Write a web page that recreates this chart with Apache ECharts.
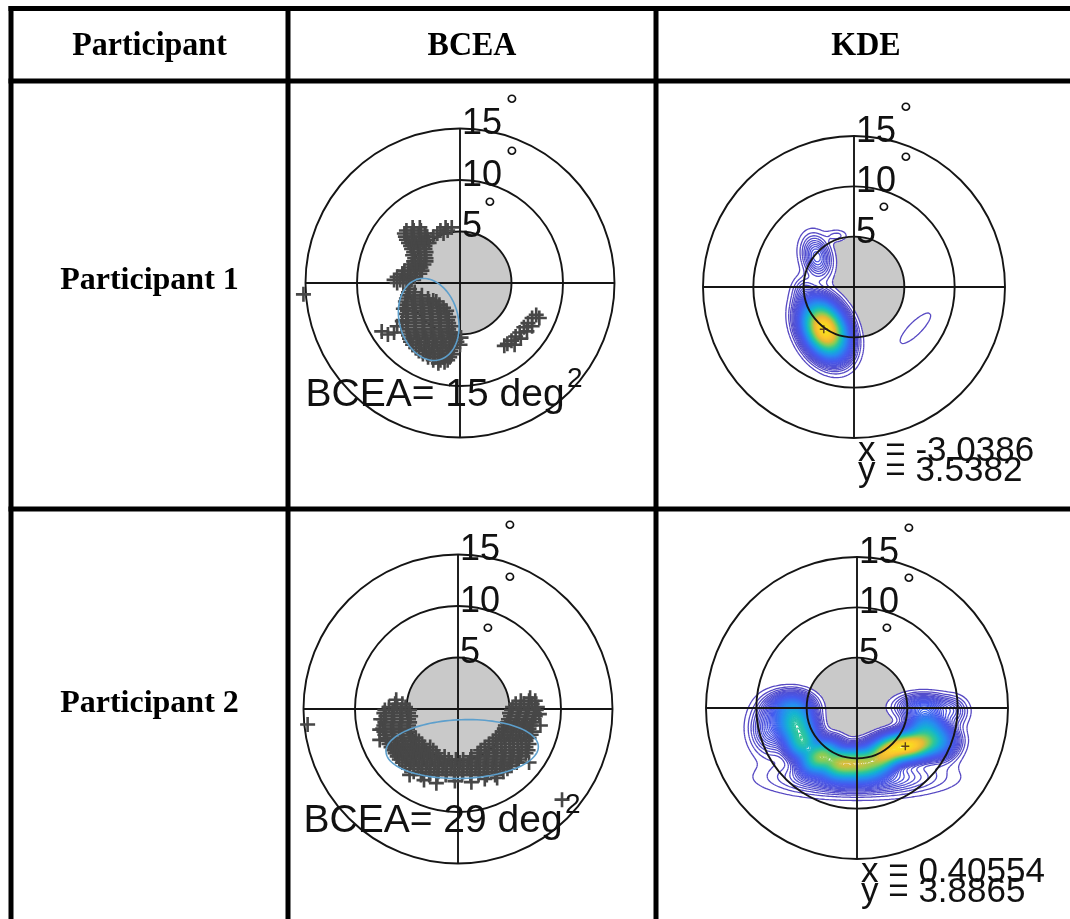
<!DOCTYPE html>
<html>
<head>
<meta charset="utf-8">
<script src="https://cdn.jsdelivr.net/npm/echarts/dist/echarts.min.js"></script>
<style>
html, body { margin: 0; padding: 0; background: #ffffff; }
#chart { width: 1070px; height: 919px; }
</style>
</head>
<body>
<div id="chart"></div>
<script>
// ---------- table text ----------
const headerLabels = ['Participant', 'BCEA', 'KDE'];
const participantNames = ['Participant 1', 'Participant 2'];

// ---------- target rings (degrees of visual angle) ----------
const ringDegrees = [5, 10, 15];

// ---------- fixation summary values ----------
const bceaValues = [15, 29];
const centroidX = [-3.0386, 0.40554];
const centroidY = [3.5382, 3.8865];          // y grows downward (screen convention)
const ellipseSemiMajor = [4.05, 7.4];
const ellipseSemiMinor = [2.85, 2.85];
const ellipseTiltDeg = [75, -2];

// ---------- gaze samples, participant 1: [yDown, [x, ...]] ----------
const p1GazeRows = [
  [-5.4, [-4.6, -3.9, -1.4, -0.8]],
  [-5.1, [-5.2, -4.5, -3.8, -1.9, -1.2]],
  [-4.8, [-5.4, -4.7, -4.0, -3.4, -2.2, -1.6]],
  [-4.5, [-5.3, -4.6, -3.9, -3.2, -2.6]],
  [-4.2, [-5.2, -4.5, -3.8, -3.1]],
  [-3.9, [-5.0, -4.3, -3.6, -3.0]],
  [-3.6, [-4.8, -4.1, -3.4]],
  [-3.3, [-4.7, -4.0, -3.4]],
  [-3.0, [-4.5, -3.9, -3.3]],
  [-2.7, [-4.6, -3.9, -3.4]],
  [-2.4, [-4.4, -3.8, -3.3]],
  [-2.1, [-4.5, -3.9, -3.3]],
  [-1.8, [-4.7, -4.1, -3.5]],
  [-1.5, [-5.0, -4.4, -3.8]],
  [-1.2, [-5.4, -4.8, -4.2, -3.7]],
  [-0.9, [-5.6, -5.0, -4.4, -3.9]],
  [-0.6, [-6.1, -5.5, -4.9, -4.4]],
  [-0.3, [-6.4, -5.8, -5.2, -4.7]],
  [0.0, [-6.1, -5.5]],
  [0.6, [-4.9]],
  [0.9, [-5.0, -4.4]],
  [1.2, [-5.1, -4.4, -3.7]],
  [1.5, [-5.2, -4.5, -3.8, -3.1]],
  [1.8, [-5.3, -4.6, -3.8, -3.0, -2.3]],
  [2.1, [-5.2, -4.4, -3.6, -2.8, -2.0]],
  [2.4, [-5.3, -4.6, -3.8, -3.0, -2.2, -1.6]],
  [2.7, [-5.1, -4.3, -3.5, -2.7, -1.9, -1.3]],
  [3.0, [-5.2, -4.5, -3.7, -2.9, -2.1, -1.4]],
  [3.3, [-5.1, -4.3, -3.5, -2.7, -1.9, -1.1]],
  [3.6, [-5.2, -4.4, -3.6, -2.8, -2.0, -1.2]],
  [3.9, [-5.1, -4.3, -3.5, -2.7, -1.9, -1.1]],
  [4.2, [-5.2, -4.4, -3.6, -2.8, -2.0, -1.2, -0.8]],
  [4.5, [-5.1, -4.3, -3.5, -2.7, -1.9, -1.1]],
  [4.8, [-5.1, -4.4, -3.6, -2.8, -2.0, -1.2, -0.7]],
  [5.1, [-5.0, -4.2, -3.4, -2.6, -1.8, -1.0]],
  [5.4, [-4.9, -4.1, -3.3, -2.5, -1.7, -0.9, -0.4]],
  [5.7, [-4.8, -4.0, -3.2, -2.4, -1.6, -0.8, -0.3]],
  [6.0, [-4.6, -3.8, -3.0, -2.2, -1.4, -0.6, 0.0]],
  [6.3, [-4.3, -3.5, -2.7, -1.9, -1.1, -0.6]],
  [6.6, [-4.0, -3.3, -2.5, -1.7, -0.9]],
  [6.9, [-3.6, -2.9, -2.1, -1.3, -0.8]],
  [7.2, [-3.1, -2.4, -1.6, -1.0]],
  [7.5, [-2.6, -1.9, -1.2]]
];
const p1GazeLoose = [
  [-15.2, 1.1], [-2.6, 1.7], [-5.6, 3.7], [-5.5, 2.5],
  [-7.6, 4.7], [-7.0, 5.0], [-6.4, 4.8], [-6.1, 4.2],
  [-2.1, 7.8], [-1.5, 7.7], [0.1, 5.3],
  [7.4, 3.1], [7.7, 3.4], [7.0, 3.4], [6.6, 3.9], [7.0, 4.2], [6.2, 4.3], [6.5, 4.7],
  [5.8, 4.8], [5.4, 5.2], [5.9, 5.4], [5.0, 5.6], [4.6, 5.9], [5.3, 6.0], [4.3, 6.1]
];

// ---------- gaze samples, participant 2: [yDown, [x, ...]] ----------
const p2GazeRows = [
  [-0.8, [6.1, 6.9, 7.5]],
  [-0.5, [-6.1, -5.4, 5.6, 6.4, 7.2]],
  [-0.2, [-6.7, -5.9, -5.1, 5.3, 6.1, 6.9, 7.7]],
  [0.1, [-7.1, -6.3, -5.5, -4.7, 5.2, 6.0, 6.8, 7.6]],
  [0.4, [-7.2, -6.4, -5.6, -4.8, 5.0, 5.8, 6.6, 7.4]],
  [0.7, [-7.0, -6.2, -5.4, -4.6, 5.1, 5.9, 6.7, 7.5]],
  [1.0, [-7.2, -6.4, -5.6, -4.8, 4.9, 5.7, 6.5, 7.3]],
  [1.3, [-7.1, -6.3, -5.5, -4.7, 4.8, 5.6, 6.4, 7.2]],
  [1.6, [-7.2, -6.4, -5.6, -4.8, 4.6, 5.4, 6.2, 7.0]],
  [1.9, [-7.3, -6.5, -5.7, -4.9, 4.5, 5.3, 6.1, 6.9]],
  [2.2, [-7.2, -6.4, -5.6, -4.8, 4.3, 5.1, 5.9, 6.7, 7.2]],
  [2.5, [-7.1, -6.3, -5.5, -4.7, 4.0, 4.8, 5.6, 6.4, 7.1]],
  [2.8, [-7.0, -6.2, -5.4, -4.6, -4.1, 3.7, 4.5, 5.3, 6.1, 6.9]],
  [3.1, [-6.9, -6.1, -5.3, -4.5, -3.8, 3.4, 4.2, 5.0, 5.8, 6.6]],
  [3.4, [-6.7, -5.9, -5.1, -4.3, -3.5, 3.0, 3.8, 4.6, 5.4, 6.2, 6.9]],
  [3.7, [-6.5, -5.7, -4.9, -4.1, -3.3, -2.7, 2.6, 3.4, 4.2, 5.0, 5.8, 6.6]],
  [4.0, [-6.3, -5.5, -4.7, -3.9, -3.1, -2.4, 2.2, 3.0, 3.8, 4.6, 5.4, 6.2, 6.8]],
  [4.3, [-6.1, -5.3, -4.5, -3.7, -2.9, -2.1, 1.9, 2.7, 3.5, 4.3, 5.1, 5.9, 6.6]],
  [4.6, [-5.9, -5.1, -4.3, -3.5, -2.7, -1.9, -1.3, 1.3, 2.1, 2.9, 3.7, 4.5, 5.3, 6.1]],
  [4.9, [-5.7, -4.9, -4.1, -3.3, -2.5, -1.7, -0.9, -0.2, 0.5, 1.2, 2.0, 2.8, 3.6, 4.4, 5.2, 5.9]],
  [5.2, [-5.4, -4.6, -3.8, -3.0, -2.2, -1.4, -0.6, 0.2, 1.0, 1.8, 2.6, 3.4, 4.2, 5.0, 5.7]],
  [5.5, [-5.1, -4.3, -3.5, -2.7, -1.9, -1.1, -0.3, 0.5, 1.3, 2.1, 2.9, 3.7, 4.5, 5.2]],
  [5.8, [-4.7, -3.9, -3.1, -2.3, -1.5, -0.7, 0.1, 0.9, 1.7, 2.5, 3.3, 4.1, 4.8]],
  [6.1, [-4.3, -3.5, -2.7, -1.9, -1.1, -0.3, 0.5, 1.3, 2.1, 2.9, 3.7, 4.4]],
  [6.4, [-3.6, -2.8, -2.0, -1.2, -0.4, 0.4, 1.2, 2.0, 2.8, 3.6]]
];
const p2GazeLoose = [
  [-14.6, 1.5], [10.1, 8.8],
  [-3.3, 6.9], [-2.1, 7.2], [-0.3, 7.0], [1.3, 7.1], [2.6, 6.8], [3.8, 6.7], [-4.7, 6.4],
  [-7.6, 2.0], [-7.5, 1.0], [-7.6, 3.0], [-6.0, -0.9], [7.0, -1.1], [7.9, 0.5], [8.0, 1.6], [6.9, 5.2]
];

// ---------- kernel density, as Gaussian bumps: [cx, cyDown, sx, sy, rho, height] ----------
const p1KdeBumps = [
  [-2.9, 4.2, 1.25, 1.55, 0.30, 1.00],
  [-3.7, -3.0, 0.90, 1.30, 0.20, 0.09],
  [-1.7, -5.1, 0.70, 0.40, 0.00, 0.02],
  [-5.0, 0.3, 0.70, 0.90, 0.00, 0.03],
  [6.1, 4.1, 1.40, 1.40, -0.83, 0.015]
];
const p2KdeBumps = [
  [4.9, 3.8, 1.80, 0.80, -0.25, 0.85],
  [2.6, 4.9, 1.00, 0.85, -0.30, 0.40],
  [0.4, 5.5, 1.20, 0.85, 0.00, 0.48],
  [-1.8, 5.5, 1.10, 0.85, 0.00, 0.48],
  [-3.7, 4.8, 1.00, 0.90, -0.40, 0.45],
  [-5.4, 3.4, 0.95, 1.00, 0.00, 0.38],
  [-6.1, 1.5, 1.05, 1.00, 0.00, 0.34],
  [-6.5, -0.2, 1.30, 0.85, 0.00, 0.16],
  [-8.6, 2.0, 1.20, 1.60, 0.00, 0.08],
  [6.8, 2.0, 1.10, 0.95, 0.00, 0.25],
  [8.3, 3.4, 1.10, 1.10, 0.00, 0.12],
  [6.6, -0.1, 1.60, 0.75, 0.00, 0.11],
  [9.6, 0.4, 0.90, 0.90, 0.00, 0.04],
  [0.0, 6.9, 4.50, 1.00, 0.00, 0.10]
];

// ---------- styling / layout ----------
const SANS = '"Liberation Sans", Arial, sans-serif';
const SERIF = '"Liberation Serif", "Times New Roman", serif';
const LINE_BLACK = '#151515';
const DISK_GRAY = '#c9c9c9';
const GAZE_COLOR = '#474747';
const ELLIPSE_COLOR = '#5d9fcc';
const PLUS = 'path://M4.95,0H7.05V4.95H12V7.05H7.05V12H4.95V7.05H0V4.95H4.95Z';
const KDE_LEVELS = 120;
const KDE_LINE_WIDTH = 1.3;
const TARGET_LINE_WIDTH = 1.9;

const panels = [
  { kind: 'bcea', who: 0, cx: 460, cy: 283, r: 154.5 },
  { kind: 'kde',  who: 0, cx: 854, cy: 287, r: 151 },
  { kind: 'bcea', who: 1, cx: 458, cy: 709, r: 154.5 },
  { kind: 'kde',  who: 1, cx: 857, cy: 708, r: 151 }
];
const OUTER = Math.max.apply(null, ringDegrees);

function rowsToPoints(rows, loose) {
  const pts = [];
  rows.forEach(function (row) { row[1].forEach(function (x) { pts.push([x, row[0]]); }); });
  return pts.concat(loose);
}
const gaze = [rowsToPoints(p1GazeRows, p1GazeLoose), rowsToPoints(p2GazeRows, p2GazeLoose)];

// ---------- parula-like colour ramp ----------
const RAMP = [
  [0.000, [88, 72, 192]], [0.125, [70, 90, 238]], [0.250, [40, 140, 240]],
  [0.375, [20, 180, 210]], [0.500, [50, 200, 150]], [0.625, [140, 205, 85]],
  [0.750, [230, 185, 55]], [0.875, [252, 200, 45]], [1.000, [246, 226, 28]]
];
function ramp(t) {
  t = Math.max(0, Math.min(1, t));
  for (let i = 1; i < RAMP.length; i++) {
    if (t <= RAMP[i][0]) {
      const a = RAMP[i - 1], b = RAMP[i];
      const f = (t - a[0]) / (b[0] - a[0]);
      const c = a[1].map(function (v, k) { return Math.round(v + (b[1][k] - v) * f); });
      return 'rgb(' + c.join(',') + ')';
    }
  }
  return 'rgb(246,226,28)';
}

// ---------- density field + marching squares ----------
const G0 = -16, GS = 0.2, GN = 161;
function bump(x, y, c) {
  const dx = (x - c[0]) / c[2], dy = (y - c[1]) / c[3], rho = c[4];
  const q = (dx * dx - 2 * rho * dx * dy + dy * dy) / (1 - rho * rho);
  return c[5] * Math.exp(-0.5 * q);
}
function buildKde(bumps) {
  const f = new Float64Array(GN * GN);
  let max = 0, peak = [0, 0];
  for (let j = 0; j < GN; j++) {
    const y = G0 + j * GS;
    for (let i = 0; i < GN; i++) {
      const x = G0 + i * GS;
      let v = 0;
      for (let k = 0; k < bumps.length; k++) v += bump(x, y, bumps[k]);
      f[j * GN + i] = v;
      if (v > max) { max = v; peak = [x, y]; }
    }
  }
  const levels = [];
  for (let k = 1; k < KDE_LEVELS; k++) levels.push(max * k / KDE_LEVELS);
  const segments = levels.map(function (L) { return isoLines(f, L); });
  const cells = [];
  for (let j = 0; j < GN - 1; j++) {
    for (let i = 0; i < GN - 1; i++) {
      const m = (f[j * GN + i] + f[j * GN + i + 1] + f[(j + 1) * GN + i] + f[(j + 1) * GN + i + 1]) / 4;
      if (m >= levels[0]) cells.push(G0 + i * GS, G0 + j * GS);
    }
  }
  return { max: max, peak: peak, levels: levels, segments: segments, cells: cells };
}
const CASES = {
  1: [[3, 0]], 2: [[0, 1]], 3: [[3, 1]], 4: [[1, 2]], 5: [[3, 0], [1, 2]], 6: [[0, 2]], 7: [[2, 3]],
  8: [[2, 3]], 9: [[0, 2]], 10: [[0, 1], [2, 3]], 11: [[1, 2]], 12: [[1, 3]], 13: [[0, 1]], 14: [[0, 3]]
};
function isoLines(f, L) {
  const out = [];
  for (let j = 0; j < GN - 1; j++) {
    const y0 = G0 + j * GS;
    for (let i = 0; i < GN - 1; i++) {
      const a = f[j * GN + i], b = f[j * GN + i + 1], c = f[(j + 1) * GN + i + 1], d = f[(j + 1) * GN + i];
      const idx = (a >= L ? 1 : 0) | (b >= L ? 2 : 0) | (c >= L ? 4 : 0) | (d >= L ? 8 : 0);
      if (idx === 0 || idx === 15) continue;
      const x0 = G0 + i * GS;
      const e = [
        [x0 + (L - a) / (b - a) * GS, y0],
        [x0 + GS, y0 + (L - b) / (c - b) * GS],
        [x0 + (L - d) / (c - d) * GS, y0 + GS],
        [x0, y0 + (L - a) / (d - a) * GS]
      ];
      CASES[idx].forEach(function (s) { out.push(e[s[0]][0], e[s[0]][1], e[s[1]][0], e[s[1]][1]); });
    }
  }
  return out;
}
const kde = [buildKde(p1KdeBumps), buildKde(p2KdeBumps)];

// ---------- series builders ----------
function frame(api) {
  const o = api.coord([0, 0]), u = api.coord([1, 1]);
  return { ox: o[0], oy: o[1], kx: u[0] - o[0], ky: u[1] - o[1] };
}

function diskSeries(g) {
  return {
    type: 'custom', xAxisIndex: g, yAxisIndex: g, z: 1, silent: true,
    data: [[ringDegrees[0], 0]],
    renderItem: function (p, api) {
      const c = api.coord([0, 0]);
      const r = api.size([api.value(0), 0])[0];
      return { type: 'circle', shape: { cx: c[0], cy: c[1], r: r }, style: { fill: DISK_GRAY } };
    }
  };
}
function ringSeries(g) {
  return {
    type: 'custom', xAxisIndex: g, yAxisIndex: g, z: 4, silent: true,
    data: ringDegrees.map(function (r) { return [r, 0]; }),
    renderItem: function (p, api) {
      const c = api.coord([0, 0]);
      const r = api.size([api.value(0), 0])[0];
      return { type: 'circle', shape: { cx: c[0], cy: c[1], r: r }, style: { fill: 'none', stroke: LINE_BLACK, lineWidth: TARGET_LINE_WIDTH } };
    }
  };
}
function crossSeries(g) {
  return {
    type: 'custom', xAxisIndex: g, yAxisIndex: g, z: 4, silent: true,
    data: [[-OUTER, 0, OUTER, 0], [0, -OUTER, 0, OUTER]],
    renderItem: function (p, api) {
      const a = api.coord([api.value(0), api.value(1)]);
      const b = api.coord([api.value(2), api.value(3)]);
      return { type: 'line', shape: { x1: a[0], y1: a[1], x2: b[0], y2: b[1] }, style: { stroke: LINE_BLACK, lineWidth: TARGET_LINE_WIDTH } };
    }
  };
}
const DEG_DX = { 5: 30, 10: 52, 15: 52 };
function ringLabelSeries(g) {
  return {
    type: 'custom', xAxisIndex: g, yAxisIndex: g, z: 8, silent: true,
    data: ringDegrees.map(function (r) { return [r, 0]; }),
    renderItem: function (p, api) {
      const r = api.value(0);
      const top = api.coord([0, -r]);
      return {
        type: 'group',
        children: [
          { type: 'text', x: top[0] + 2, y: top[1] - 4,
            style: { text: String(r), font: '36px ' + SANS, fill: '#111', align: 'left', verticalAlign: 'middle' } },
          { type: 'text', x: top[0] + DEG_DX[r], y: top[1] - 21,
            style: { text: '\u00B0', font: '32px ' + SANS, fill: '#111', align: 'center', verticalAlign: 'middle' } }
        ]
      };
    }
  };
}
function gazeSeries(g, who) {
  return {
    type: 'scatter', xAxisIndex: g, yAxisIndex: g, z: 5, silent: true, clip: false,
    symbol: PLUS, symbolSize: 15, itemStyle: { color: GAZE_COLOR, opacity: 1 },
    data: gaze[who]
  };
}
function ellipseSeries(g, who) {
  return {
    type: 'custom', xAxisIndex: g, yAxisIndex: g, z: 6, silent: true,
    data: [[centroidX[who], centroidY[who], ellipseSemiMajor[who], ellipseSemiMinor[who], ellipseTiltDeg[who]]],
    renderItem: function (p, api) {
      const cx = api.value(0), cy = api.value(1), a = api.value(2), b = api.value(3);
      const th = api.value(4) * Math.PI / 180;
      const pts = [];
      for (let t = 0; t < 360; t += 3) {
        const u = t * Math.PI / 180;
        const x = cx + a * Math.cos(u) * Math.cos(th) - b * Math.sin(u) * Math.sin(th);
        const y = cy + a * Math.cos(u) * Math.sin(th) + b * Math.sin(u) * Math.cos(th);
        pts.push(api.coord([x, y]));
      }
      return { type: 'polygon', shape: { points: pts }, style: { fill: 'none', stroke: ELLIPSE_COLOR, lineWidth: 1.6 } };
    }
  };
}
function bceaTextSeries(g, who) {
  return {
    type: 'custom', xAxisIndex: g, yAxisIndex: g, z: 9, silent: true,
    data: [[bceaValues[who], 0]],
    renderItem: function (p, api) {
      const left = api.coord([-OUTER, 0]);
      const c = api.coord([0, 0]);
      return {
        type: 'group',
        children: [
          { type: 'text', x: left[0], y: c[1] + 112,
            style: { text: 'BCEA= ' + api.value(0) + ' deg', font: '39px ' + SANS, fill: '#111', align: 'left', verticalAlign: 'middle' } },
          { type: 'text', x: c[0] + 107, y: c[1] + 96,
            style: { text: '2', font: '28px ' + SANS, fill: '#111', align: 'left', verticalAlign: 'middle' } }
        ]
      };
    }
  };
}
function kdeFillSeries(g, who) {
  const K = kde[who];
  return {
    type: 'custom', xAxisIndex: g, yAxisIndex: g, z: 2, silent: true,
    data: [[0, 0]],
    renderItem: function (p, api) {
      const fr = frame(api);
      const w = GS * fr.kx, h = GS * fr.ky;
      let d = '';
      for (let s = 0; s < K.cells.length; s += 2) {
        const x = fr.ox + K.cells[s] * fr.kx, y = fr.oy + K.cells[s + 1] * fr.ky;
        d += 'M' + x.toFixed(2) + ' ' + y.toFixed(2) + 'h' + w.toFixed(2) + 'v' + h.toFixed(2) + 'h' + (-w).toFixed(2) + 'Z';
      }
      if (!d) return { type: 'group', children: [] };
      return { type: 'path', shape: { pathData: d }, style: { fill: '#ffffff', stroke: null } };
    }
  };
}
function kdeLineSeries(g, who) {
  const K = kde[who];
  return {
    type: 'custom', xAxisIndex: g, yAxisIndex: g, z: 3, silent: true,
    data: K.levels.map(function (L, k) { return [k, L]; }),
    renderItem: function (p, api) {
      const k = p.dataIndex;
      const segs = K.segments[k];
      if (!segs.length) return { type: 'group', children: [] };
      const fr = frame(api);
      let d = '';
      for (let s = 0; s < segs.length; s += 4) {
        d += 'M' + (fr.ox + segs[s] * fr.kx).toFixed(2) + ' ' + (fr.oy + segs[s + 1] * fr.ky).toFixed(2) +
             'L' + (fr.ox + segs[s + 2] * fr.kx).toFixed(2) + ' ' + (fr.oy + segs[s + 3] * fr.ky).toFixed(2);
      }
      return { type: 'path', shape: { pathData: d },
               style: { fill: 'none', stroke: ramp(api.value(1) / K.max), lineWidth: KDE_LINE_WIDTH } };
    }
  };
}
function kdePeakSeries(g, who) {
  return {
    type: 'scatter', xAxisIndex: g, yAxisIndex: g, z: 6, silent: true, clip: false,
    symbol: PLUS, symbolSize: 8, itemStyle: { color: '#3a1a1a' },
    data: [kde[who].peak]
  };
}
function kdeTextSeries(g, who) {
  return {
    type: 'custom', xAxisIndex: g, yAxisIndex: g, z: 9, silent: true,
    data: [[centroidX[who], centroidY[who]]],
    renderItem: function (p, api) {
      const c = api.coord([0, 0]);
      return {
        type: 'group',
        children: [
          { type: 'text', x: c[0] + 4, y: c[1] + 164,
            style: { text: 'x = ' + api.value(0), font: '35px ' + SANS, fill: '#111', align: 'left', verticalAlign: 'middle' } },
          { type: 'text', x: c[0] + 4, y: c[1] + 184,
            style: { text: 'y = ' + api.value(1), font: '35px ' + SANS, fill: '#111', align: 'left', verticalAlign: 'middle' } }
        ]
      };
    }
  };
}

// ---------- assemble ----------
const grids = [], xAxes = [], yAxes = [], series = [];
panels.forEach(function (pn, g) {
  grids.push({ left: pn.cx - pn.r, top: pn.cy - pn.r, width: 2 * pn.r, height: 2 * pn.r, show: false });
  xAxes.push({ gridIndex: g, type: 'value', min: -OUTER, max: OUTER, show: false });
  yAxes.push({ gridIndex: g, type: 'value', min: -OUTER, max: OUTER, inverse: true, show: false });
  series.push(diskSeries(g));
  if (pn.kind === 'kde') {
    series.push(kdeFillSeries(g, pn.who), kdeLineSeries(g, pn.who));
  }
  series.push(ringSeries(g), crossSeries(g));
  if (pn.kind === 'bcea') {
    series.push(gazeSeries(g, pn.who), ellipseSeries(g, pn.who), bceaTextSeries(g, pn.who));
  } else {
    series.push(kdePeakSeries(g, pn.who), kdeTextSeries(g, pn.who));
  }
  series.push(ringLabelSeries(g));
});

// table rules
const TL = 5;
const rule = function (x1, y1, x2, y2) {
  return { type: 'line', z: 100, silent: true, shape: { x1: x1, y1: y1, x2: x2, y2: y2 }, style: { stroke: '#000', lineWidth: TL } };
};
const colX = [11, 288, 656];
const rowY = [8.5, 81, 509];
const graphics = rowY.map(function (y) { return rule(colX[0] - 2.5, y, 1070, y); })
  .concat(colX.map(function (x) { return rule(x, 6, x, 919); }));
const headCenters = [149.5, 472, 866];
headerLabels.forEach(function (t, i) {
  graphics.push({ type: 'text', z: 100, silent: true, x: headCenters[i], y: 46, scaleY: 1.08,
    style: { text: t, font: 'bold 32px ' + SERIF, fill: '#000', align: 'center', verticalAlign: 'middle' } });
});
const nameY = [281, 704];
participantNames.forEach(function (t, i) {
  graphics.push({ type: 'text', z: 100, silent: true, x: headCenters[0], y: nameY[i],
    style: { text: t, font: 'bold 32px ' + SERIF, fill: '#000', align: 'center', verticalAlign: 'middle' } });
});

const chart = echarts.init(document.getElementById('chart'), null, { renderer: 'canvas' });
chart.setOption({
  backgroundColor: '#ffffff',
  animation: false,
  grid: grids,
  xAxis: xAxes,
  yAxis: yAxes,
  series: series,
  graphic: { elements: graphics }
});
</script>
</body>
</html>
